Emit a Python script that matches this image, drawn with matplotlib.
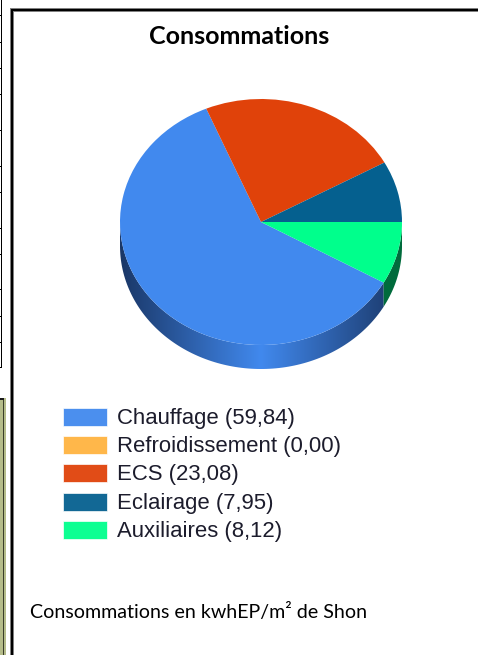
import numpy as np
import matplotlib
matplotlib.use("Agg")
import matplotlib.pyplot as plt
from matplotlib.colors import LinearSegmentedColormap
from matplotlib.patches import Polygon, Rectangle

categories = ["Chauffage", "Refroidissement", "ECS", "Eclairage", "Auxiliaires"]
values = [59.84, 0.00, 23.08, 7.95, 8.12]
colors = ["#4189EE", "#FFB340", "#E0420A", "#05608F", "#00FF8C"]
title = "Consommations"
caption = "Consommations en kwhEP/m² de Shon"

W, H = 478, 655
# pie geometry in pixels
CX, CY, RX, RY, DEPTH = 261, 222, 141, 123, 24

fig = plt.figure(figsize=(W / 100, H / 100), dpi=100, facecolor="white")

# overlay in pixel coords for frame, legend and text
bg = fig.add_axes([0, 0, 1, 1])
bg.set_xlim(0, W)
bg.set_ylim(H, 0)
bg.axis("off")

# bits of the page around the chart
bg.add_patch(Rectangle((1, 0), 1, 367, color="black", lw=0))
for y in [15, 42, 68, 94, 130, 166, 192, 228, 254, 289, 316, 342, 367]:
    bg.add_patch(Rectangle((0, y), 2, 1, color="black", lw=0))
bg.add_patch(Rectangle((0, 398), 6, H - 398, color="#B5BC8A", lw=0))
bg.add_patch(Rectangle((3, 398), 1.5, H - 398, color="#3A3D2A", lw=0))
bg.add_patch(Rectangle((0, 398), 4.5, 2, color="#1A1A1A", lw=0))

# chart frame
bg.add_patch(Rectangle((10, 8), 4, H - 8, color="#808080", lw=0))
bg.add_patch(Rectangle((10, 8), W - 10, 3.5, color="#808080", lw=0))
bg.add_patch(Rectangle((11, 9), 2.4, H - 9, color="black", lw=0))
bg.add_patch(Rectangle((11, 9), W - 11, 2.4, color="black", lw=0))

bg.text(239, 36.5, title, family="Lato", weight="bold", fontsize=18, ha="center", va="center")
bg.text(30, 612, caption, family="Lato", fontsize=14.1, ha="left", va="center")

# legend
for i, (name, val, col) in enumerate(zip(categories, values, colors)):
    y = 417 + 28.2 * i
    bg.add_patch(Rectangle((63, y - 9), 44, 18, facecolor=col, edgecolor="white", lw=0.5, alpha=0.95))
    label = f"{name} ({val:.2f})".replace(".", ",")
    bg.text(117, y + 1.5, label, family="Liberation Sans", fontsize=15.9, color="#1c1c2c", ha="left", va="center")

# pie, stretched to an ellipse by the axes limits
ax = fig.add_axes([0, 0, 1, 1])
ax.patch.set_alpha(0)
start = -values[-1] / sum(values) * 360
wedges, _ = ax.pie(values, colors=colors, startangle=start, counterclock=False, wedgeprops={"lw": 0}, radius=1)
ax.set_aspect("auto")
ax.axis("off")

depth = DEPTH / RY
side_cmap = LinearSegmentedColormap.from_list("side", ["#1A3767", "#4189EE", "#1A3767"])

# side wall below the front half of the pie
for w, col in zip(wedges, colors):
    t1 = w.theta1 % 360
    t2 = t1 + (w.theta2 - w.theta1)
    lo, hi = max(t1, 180), min(t2, 360)
    if hi <= lo:
        continue
    t = np.radians(np.linspace(lo, hi, 120))
    x, y = np.cos(t), np.sin(t)
    pts = np.r_[np.c_[x, y], np.c_[x, y - depth][::-1]]
    if col == colors[0]:
        clip = Polygon(pts, transform=ax.transData, fc="none", ec="none")
        ax.add_patch(clip)
        im = ax.imshow(np.linspace(0, 1, 256)[None, :], cmap=side_cmap, extent=(-1, 1, -1.3, -0.0),
                       aspect="auto", zorder=0.5)
        im.set_clip_path(clip)
    else:
        ax.add_patch(Polygon(pts, facecolor="#006B3C", edgecolor="none", zorder=0.5))

ax.set_xlim(-CX / RX, (W - CX) / RX)
ax.set_ylim((CY - H) / RY, CY / RY)

fig.savefig("out.png", dpi=100)
